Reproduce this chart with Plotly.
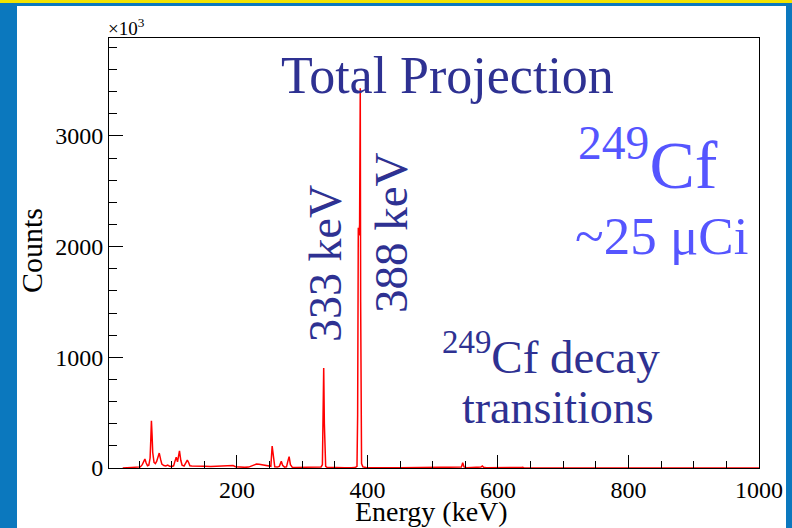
import plotly.graph_objects as go

# ---- data (counts in units of 10^3) ----
energy_kev = [25, 30, 40, 48, 52, 55, 57, 59, 61, 63, 65, 67, 68, 69, 70, 71, 73, 75, 77, 79,
              81, 83, 85, 88, 91, 94, 97, 100, 103, 105, 107, 109, 111, 112, 114, 116, 119,
              121, 123, 124, 126, 128, 131, 135, 140, 150, 160, 170, 180, 190, 194, 198, 205,
              212, 218, 222, 226, 230, 234, 238, 242, 246, 250, 252, 254, 256, 258, 262, 265,
              268, 270, 273, 276, 278, 280, 282, 285, 290, 300, 310, 320, 326, 329, 331, 332,
              333, 334, 335, 336, 338, 345, 355, 365, 375, 381, 384, 385, 386, 387, 388, 389,
              389.6, 390.2, 391, 393, 398, 405, 410, 415, 420, 430, 450, 480, 510, 530, 540,
              544, 546, 548, 552, 570, 574, 576, 578, 582, 600, 630, 636, 638, 640, 660, 680,
              682, 684, 700, 716, 718, 720, 740, 772, 774, 776, 800, 850, 900, 950, 1000]
counts_k = [0, 2, 4, 7, 10, 30, 60, 81, 45, 20, 25, 90, 250, 427, 300, 140, 50, 40, 60, 100,
            135, 80, 35, 22, 18, 27, 15, 14, 20, 60, 97, 55, 120, 154, 70, 25, 18,
            40, 65, 72, 50, 20, 18, 16, 15, 15, 14, 15, 14, 16, 22, 12, 6,
            6, 8, 15, 25, 36, 33, 30, 28, 25, 18, 15, 199, 80, 10, 8, 15,
            60, 25, 8, 10, 60, 102, 30, 6, 5, 5, 5, 5, 6, 10, 30, 370,
            903, 400, 60, 15, 6, 4, 4, 3, 3, 4, 15, 480, 2170, 2100, 2200, 3430,
            1500, 300, 40, 10, 4, 3, 4, 3, 2, 2, 2, 2, 2, 2, 2,
            8, 48, 10, 2, 2, 8, 18, 6, 2, 1, 1, 5, 6, 1, 1, 1,
            5, 1, 1, 1, 5, 1, 1, 1, 5, 1, 1, 0, 0, 0, 0]

x_tickvals = [200, 400, 600, 800, 1000]
y_tickvals = [0, 1000, 2000, 3000]
x_title = "Energy (keV)"
y_title = "Counts"

SERIF = "Liberation Serif, Times New Roman, serif"
DARK = "#2E3192"
LIGHT = "#5555FF"

fig = go.Figure()
fig.add_trace(go.Scatter(x=energy_kev, y=counts_k, mode="lines",
                         line=dict(color="#FF0000", width=1.5), showlegend=False,
                         hoverinfo="skip"))

W, H = 792, 528
L, R, T, B = 109, 33, 38, 60
pw, ph = W - L - R, H - T - B

def px(xp):
    return (xp - L) / pw

def py(yp):
    return (H - B - yp) / ph

shapes = [
    dict(type="rect", xref="paper", yref="paper", x0=px(17), x1=px(786), y0=py(540), y1=py(6),
         fillcolor="white", line=dict(width=0), layer="below"),
    dict(type="rect", xref="paper", yref="paper", x0=px(-10), x1=px(800), y0=py(3), y1=py(-5),
         fillcolor="#F2E300", line=dict(width=0), layer="below"),
]

def ann(text, x, y, size, color, angle=0, xanchor="center"):
    return dict(text=text, x=px(x), y=py(y), xref="paper", yref="paper",
                xanchor=xanchor, yanchor="middle", textangle=angle, showarrow=False,
                font=dict(family=SERIF, size=size, color=color))

annotations = [
    ann("×10<sup>3</sup>", 106, 27, 19, "black", xanchor="left"),
    ann("Total Projection", 447, 75, 52, DARK),
    ann("333 keV", 325, 264, 46, DARK, angle=-90),
    ann("388 keV", 391, 233, 47, DARK, angle=-90),
    ann("<sup>249</sup>Cf", 648, 160, 68, LIGHT),
    ann("~25 μCi", 661, 236, 53, LIGHT),
    ann("<sup>249</sup>Cf decay", 551, 353, 47, DARK),
    ann("transitions", 558, 407, 46, DARK),
    ann(x_title, 431, 512, 28, "black"),
    ann(y_title, 31, 251, 30, "black", angle=-90),
]

fig.update_layout(
    width=W, height=H,
    margin=dict(l=L, r=R, t=T, b=B, pad=0, autoexpand=False),
    paper_bgcolor="#0B78BE", plot_bgcolor="white",
    shapes=shapes, annotations=annotations,
    font=dict(family=SERIF, color="black"),
    xaxis=dict(range=[4, 1000], tickvals=x_tickvals, ticktext=[str(v) for v in x_tickvals],
               ticks="inside", ticklen=13, tickwidth=1, tickcolor="black",
               showline=True, linecolor="black", linewidth=1, mirror=True,
               showgrid=False, zeroline=False, automargin=False,
               minor=dict(dtick=50, tick0=0, ticks="inside", ticklen=7, tickcolor="black",
                          showgrid=False),
               tickfont=dict(family=SERIF, size=24, color="black")),
    yaxis=dict(range=[0, 3885], tickvals=y_tickvals, ticktext=[str(v) for v in y_tickvals],
               ticks="inside", ticklen=14, tickwidth=1, tickcolor="black",
               showline=True, linecolor="black", linewidth=1, mirror=True,
               showgrid=False, zeroline=False, automargin=False,
               minor=dict(dtick=200, tick0=0, ticks="inside", ticklen=8, tickcolor="black",
                          showgrid=False),
               tickfont=dict(family=SERIF, size=24, color="black")),
)

fig.write_html("out.html", config={"displayModeBar": False},
               post_script="document.body.style.margin='0';document.body.style.padding='0';")
